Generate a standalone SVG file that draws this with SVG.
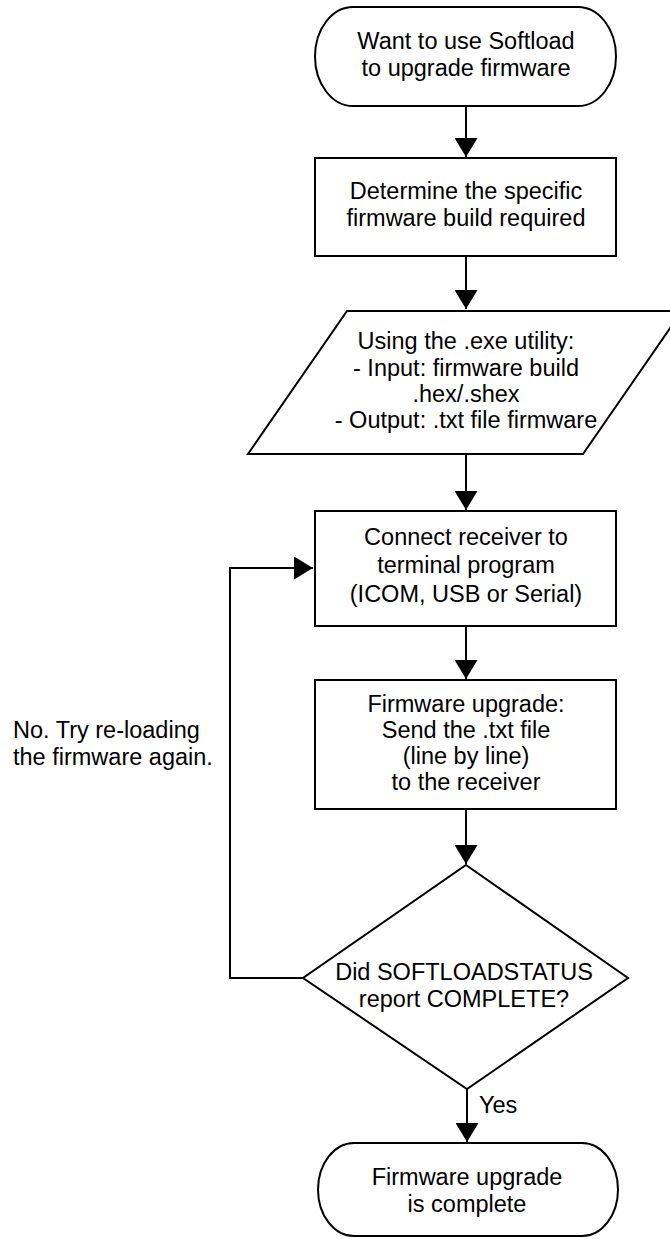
<svg xmlns="http://www.w3.org/2000/svg" width="670" height="1239" viewBox="0 0 670 1239">
<style>
.s{fill:#fff;stroke:#000;stroke-width:2}
.t{font-family:"Liberation Sans",Arial,sans-serif;font-size:23.5px;fill:#000;text-anchor:middle}
.l{font-family:"Liberation Sans",Arial,sans-serif;font-size:23.5px;fill:#000}
.c{fill:none;stroke:#000;stroke-width:2}
</style>
<defs>
<marker id="av" markerWidth="19" markerHeight="23" refX="19" refY="11.5" orient="auto" markerUnits="userSpaceOnUse" viewBox="0 0 19 23">
<path d="M0,0 L19,11.5 L0,23 Z" fill="#000"/>
</marker>
</defs>
<rect width="670" height="1239" fill="#fff"/>
<g id="connectors">
<line class="c" x1="466" y1="106" x2="466" y2="157" marker-end="url(#av)"/>
<line class="c" x1="466" y1="256" x2="466" y2="309" marker-end="url(#av)"/>
<line class="c" x1="466" y1="454" x2="466" y2="510" marker-end="url(#av)"/>
<line class="c" x1="466" y1="626" x2="466" y2="679" marker-end="url(#av)"/>
<line class="c" x1="466" y1="809" x2="466" y2="864" marker-end="url(#av)"/>
<line class="c" x1="467" y1="1089" x2="467" y2="1142" marker-end="url(#av)"/>
<polyline class="c" points="303,978 230,978 230,568 313,568" marker-end="url(#av)"/>
<text class="l" x="479" y="1113">Yes</text>
<text class="l" x="13" y="738">No. Try re-loading</text>
<text class="l" x="13" y="765">the firmware again.</text>
</g>
<g id="start">
<rect class="s" x="315" y="7" width="301" height="99" rx="38" ry="49.5"/>
<text class="t" x="466" y="49">Want to use Softload</text>
<text class="t" x="466" y="76">to upgrade firmware</text>
</g>
<g id="determine">
<rect class="s" x="315" y="158" width="301" height="98"/>
<text class="t" x="466" y="199">Determine the specific</text>
<text class="t" x="466" y="226">firmware build required</text>
</g>
<g id="convert">
<polygon class="s" points="347,311 682,311 583,454 248,454"/>
<text class="t" x="466" y="349">Using the .exe utility:</text>
<text class="t" x="466" y="376">- Input: firmware build</text>
<text class="t" x="466" y="402">.hex/.shex</text>
<text class="t" x="466" y="428">- Output: .txt file firmware</text>
</g>
<g id="connect">
<rect class="s" x="315" y="511" width="301" height="115"/>
<text class="t" x="466" y="545">Connect receiver to</text>
<text class="t" x="466" y="573">terminal program</text>
<text class="t" x="466" y="602">(ICOM, USB or Serial)</text>
</g>
<g id="upgrade">
<rect class="s" x="315" y="680" width="301" height="129"/>
<text class="t" x="466" y="712">Firmware upgrade:</text>
<text class="t" x="466" y="738">Send the .txt file</text>
<text class="t" x="466" y="764">(line by line)</text>
<text class="t" x="466" y="790">to the receiver</text>
</g>
<g id="decision">
<polygon class="s" points="466,865 628,978 467,1089 303,978"/>
<text class="t" x="464" y="980">Did SOFTLOADSTATUS</text>
<text class="t" x="464" y="1007">report COMPLETE?</text>
</g>
<g id="end">
<rect class="s" x="318" y="1143" width="300" height="93" rx="36" ry="46.5"/>
<text class="t" x="467" y="1185">Firmware upgrade</text>
<text class="t" x="467" y="1212">is complete</text>
</g>
</svg>
